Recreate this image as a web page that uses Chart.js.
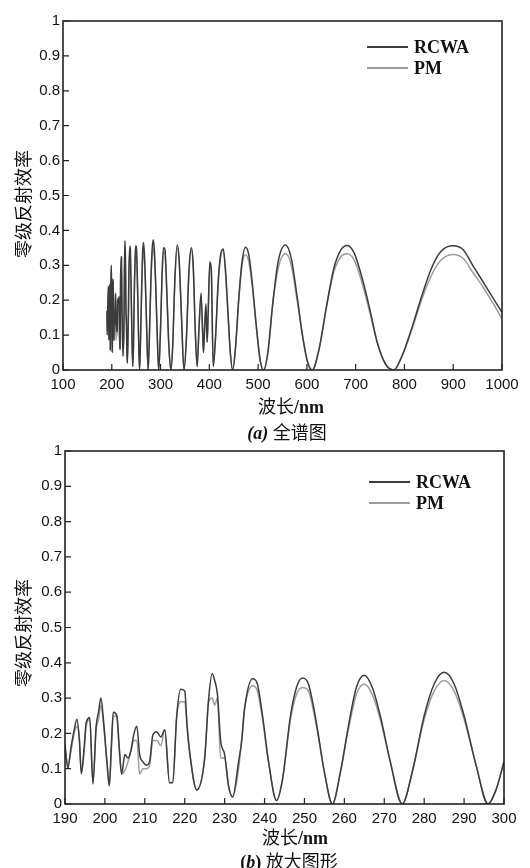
<!DOCTYPE html>
<html>
<head>
<meta charset="utf-8">
<script src="https://cdn.jsdelivr.net/npm/chart.js@4.4.0/dist/chart.umd.min.js"></script>
<style>
  body { margin: 0; background: #fff; }
  #page { position: relative; width: 530px; height: 868px; overflow: hidden; }
  canvas { position: absolute; left: 0; }
  .txt { position: absolute; white-space: nowrap; color: #111; font-family: "Liberation Serif", "Noto Sans CJK SC", serif; font-size: 18px; transform: translate(-50%, -50%); }
  .ylab { transform: translate(-50%, -50%) rotate(-90deg); font-family: "Noto Sans CJK SC", sans-serif; font-size: 18px; }
  b { font-weight: bold; }
</style>
</head>
<body>
<div id="page">
  <canvas id="fullChart" width="530" height="434" style="top:0"></canvas>
  <canvas id="zoomChart" width="530" height="434" style="top:434px"></canvas>

  <div class="txt ylab" style="left:22px; top:204px">零级反射效率</div>
  <div class="txt" style="left:291px; top:405px">波长<b>/nm</b></div>
  <div class="txt" style="left:287px; top:431px"><b><i>(a)</i></b> 全谱图</div>

  <div class="txt ylab" style="left:22px; top:633px">零级反射效率</div>
  <div class="txt" style="left:295px; top:836px">波长<b>/nm</b></div>
  <div class="txt" style="left:289px; top:860px"><b>(<i>b</i>)</b> 放大图形</div>
</div>
<script>
// 190-300 nm (b)
var zoomWave = [190, 190.7, 191.5, 192.3, 193, 193.6, 194.1, 194.8, 195.3, 196.2, 197, 197.8, 198.4, 199, 199.7,
  200.5, 201.1, 201.6, 202.1, 203, 203.6, 204.2, 205, 205.8, 206.5, 207.3, 208, 208.7, 209.5, 210.5,
  211.2, 212, 213, 214, 215, 216.2, 217, 218, 219, 220, 220.6, 221.2, 223, 225, 226, 226.9, 227.5,
  228.2, 229, 230, 231, 232, 233.5, 234.3, 235, 237, 238.2, 239.5, 241, 243, 244.5, 246.5, 248, 249.5,
  251, 253, 255, 257, 259, 261, 263, 265, 267, 269, 271.5, 274.5, 277, 280, 282.5, 285, 287.5, 290,
  293, 296, 298, 300];
var zoomRcwa = [0.17, 0.10, 0.16, 0.21, 0.24, 0.18, 0.085, 0.16, 0.23, 0.245, 0.057, 0.22, 0.26, 0.30, 0.23,
  0.12, 0.052, 0.16, 0.26, 0.25, 0.16, 0.085, 0.14, 0.13, 0.15, 0.20, 0.22, 0.14, 0.12, 0.11,
  0.12, 0.195, 0.205, 0.19, 0.21, 0.06, 0.06, 0.25, 0.325, 0.32, 0.22, 0.15, 0.04, 0.13, 0.30, 0.37, 0.35,
  0.31, 0.18, 0.14, 0.05, 0.02, 0.12, 0.18, 0.27, 0.355, 0.34, 0.25, 0.12, 0.01, 0.07, 0.25, 0.33, 0.357,
  0.34, 0.23, 0.09, 0.0, 0.09, 0.22, 0.33, 0.365, 0.33, 0.25, 0.12, 0.0, 0.09, 0.25, 0.34, 0.373, 0.34, 0.25,
  0.11, 0.0, 0.04, 0.12];
var zoomPm = [0.16, 0.11, 0.15, 0.20, 0.22, 0.19, 0.09, 0.15, 0.22, 0.24, 0.06, 0.21, 0.24, 0.28, 0.22,
  0.12, 0.05, 0.15, 0.25, 0.245, 0.15, 0.085, 0.095, 0.12, 0.15, 0.18, 0.18, 0.085, 0.10, 0.10,
  0.11, 0.18, 0.18, 0.165, 0.21, 0.06, 0.065, 0.25, 0.29, 0.29, 0.22, 0.15, 0.04, 0.13, 0.29, 0.30, 0.28,
  0.30, 0.13, 0.13, 0.05, 0.02, 0.10, 0.19, 0.27, 0.335, 0.32, 0.24, 0.12, 0.01, 0.07, 0.24, 0.31, 0.33,
  0.32, 0.22, 0.09, 0.0, 0.09, 0.21, 0.31, 0.34, 0.31, 0.24, 0.12, 0.0, 0.09, 0.24, 0.32, 0.35, 0.32, 0.24,
  0.11, 0.0, 0.04, 0.12];

// 300-1000 nm (a)
var fullWave = [303, 306, 309, 313, 317, 321, 325, 329, 334, 338, 343, 348, 353, 358, 363, 367, 371, 375,
  379, 383, 386, 388, 390.5, 393, 395.5, 397.5, 401, 404, 408, 413, 418, 423, 428.5, 433, 438, 443, 448,
  454, 460, 467, 474, 481, 488, 496, 504, 511, 520, 530, 541, 556, 568, 580, 592, 602, 611, 625, 640,
  655, 670, 683, 697, 712, 728, 745, 762, 778, 795, 815, 835, 855, 875, 900, 920, 940, 960, 980, 1000];
var fullRcwa = [0.27, 0.35, 0.345, 0.22, 0.07, 0.0, 0.07, 0.25, 0.358, 0.32, 0.15, 0.0, 0.09, 0.28, 0.35, 0.30, 0.12, 0.01,
  0.13, 0.22, 0.12, 0.05, 0.13, 0.19, 0.08, 0.16, 0.31, 0.29, 0.01, 0.10, 0.25, 0.33, 0.347, 0.29, 0.17, 0.05, 0.0,
  0.07, 0.20, 0.31, 0.352, 0.33, 0.25, 0.13, 0.03, 0.0, 0.05, 0.19, 0.31, 0.358, 0.32, 0.21, 0.09, 0.02, 0.0, 0.06, 0.18,
  0.29, 0.345, 0.357, 0.335, 0.27, 0.18, 0.075, 0.015, 0.0, 0.04, 0.12, 0.21, 0.29, 0.34, 0.356, 0.345, 0.30, 0.255, 0.21, 0.165];
var fullPm = [0.26, 0.34, 0.335, 0.21, 0.07, 0.0, 0.07, 0.24, 0.35, 0.31, 0.15, 0.0, 0.09, 0.27, 0.345, 0.29, 0.12, 0.01,
  0.12, 0.21, 0.11, 0.05, 0.12, 0.18, 0.08, 0.15, 0.30, 0.28, 0.01, 0.10, 0.24, 0.32, 0.345, 0.28, 0.17, 0.05, 0.0,
  0.07, 0.19, 0.30, 0.33, 0.31, 0.24, 0.13, 0.03, 0.0, 0.05, 0.19, 0.29, 0.334, 0.30, 0.20, 0.09, 0.02, 0.0, 0.06, 0.18,
  0.28, 0.325, 0.333, 0.315, 0.255, 0.17, 0.075, 0.015, 0.0, 0.04, 0.115, 0.20, 0.27, 0.315, 0.331, 0.32, 0.28, 0.24, 0.195, 0.147];

var seriesNames = ['RCWA', 'PM'];
var seriesColors = ['#3c3c3c', '#9c9c9c'];

function pts(xs, ys) {
  return xs.map(function (x, i) { return { x: x, y: ys[i] }; });
}

// frame, inward ticks and the small legend inside the plot
var framePlugin = {
  id: 'frame',
  afterDraw: function (chart, args, opts) {
    var ctx = chart.ctx, a = chart.chartArea, sx = chart.scales.x, sy = chart.scales.y;
    ctx.save();
    ctx.strokeStyle = '#222';
    ctx.lineWidth = 1.6;
    ctx.strokeRect(a.left, a.top, a.right - a.left, a.bottom - a.top);
    ctx.lineWidth = 1.2;
    ctx.beginPath();
    sx.ticks.forEach(function (t, i) {
      var px = sx.getPixelForTick(i);
      ctx.moveTo(px, a.bottom); ctx.lineTo(px, a.bottom - 6);
    });
    sy.ticks.forEach(function (t, i) {
      var py = sy.getPixelForTick(i);
      ctx.moveTo(a.left, py); ctx.lineTo(a.left + 6, py);
    });
    ctx.stroke();
    ctx.font = 'bold 18px "Liberation Serif"';
    ctx.textBaseline = 'middle';
    chart.data.datasets.forEach(function (ds, i) {
      var y = a.top + opts.rows[i];
      ctx.strokeStyle = ds.borderColor;
      ctx.lineWidth = 2;
      ctx.beginPath();
      ctx.moveTo(a.right - 135, y); ctx.lineTo(a.right - 94, y);
      ctx.stroke();
      ctx.fillStyle = '#111';
      ctx.fillText(ds.label, a.right - 88, y + 1);
    });
    ctx.restore();
  }
};

function makeChart(id, xs, rcwa, pm, xmin, xmax, xstep, pad, rows) {
  return new Chart(document.getElementById(id), {
    type: 'line',
    data: {
      datasets: [
        { label: seriesNames[0], data: pts(xs, rcwa), borderColor: seriesColors[0], borderWidth: 1.5, pointRadius: 0, cubicInterpolationMode: 'monotone', order: 1 },
        { label: seriesNames[1], data: pts(xs, pm), borderColor: seriesColors[1], borderWidth: 1.5, pointRadius: 0, cubicInterpolationMode: 'monotone', order: 2 }
      ]
    },
    options: {
      responsive: false,
      animation: false,
      layout: { padding: pad },
      plugins: { legend: { display: false }, tooltip: { enabled: false }, frame: { rows: rows } },
      scales: {
        x: {
          type: 'linear', min: xmin, max: xmax,
          ticks: { stepSize: xstep, color: '#111', padding: 6, maxRotation: 0, font: { family: 'Liberation Sans', size: 15 },
            callback: function (v) { return String(v); } },
          grid: { display: false, drawTicks: false },
          border: { display: false },
          afterFit: function (s) { s.height = 64; }
        },
        y: {
          min: 0, max: 1,
          ticks: { stepSize: 0.1, color: '#111', padding: 3, font: { family: 'Liberation Sans', size: 15 },
            callback: function (v) { return String(Math.round(v * 10) / 10); } },
          grid: { display: false, drawTicks: false },
          border: { display: false },
          afterFit: function (s) { s.width = pad.yw; }
        }
      }
    },
    plugins: [framePlugin]
  });
}

makeChart('fullChart', zoomWave.concat(fullWave), zoomRcwa.concat(fullRcwa), zoomPm.concat(fullPm),
  100, 1000, 100, { left: 0, right: 28, top: 21, bottom: 0, yw: 63 }, [26, 47]);
makeChart('zoomChart', zoomWave, zoomRcwa, zoomPm,
  190, 300, 10, { left: 0, right: 26, top: 17, bottom: 0, yw: 65 }, [31, 52]);
</script>
</body>
</html>
